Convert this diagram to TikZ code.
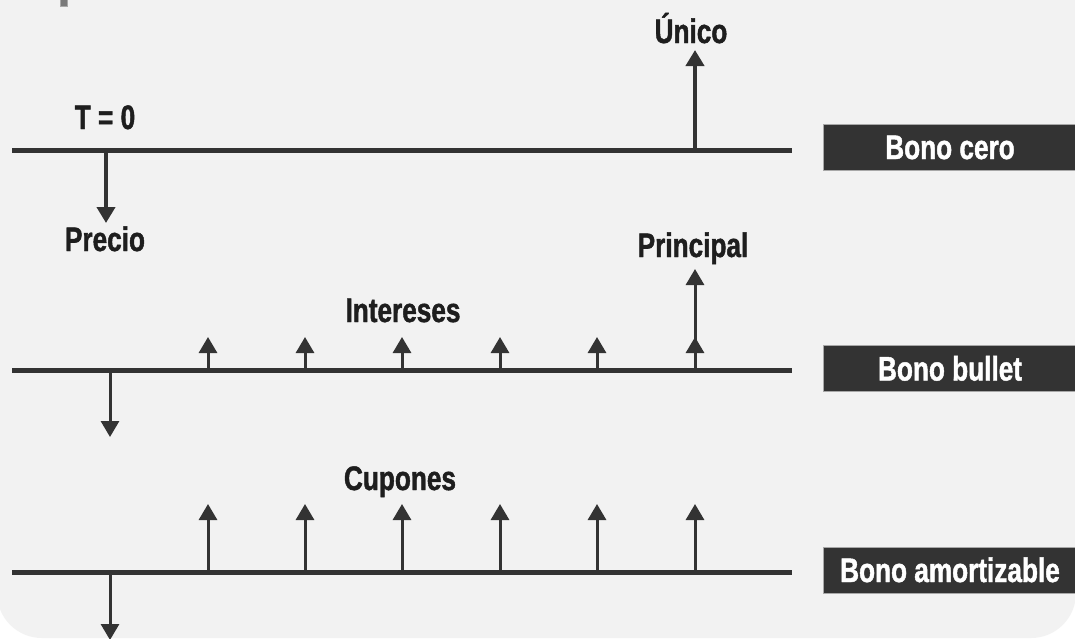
\documentclass[tikz,border=0pt]{standalone}
\usepackage{fontspec}
\setmainfont{Liberation Sans}[FakeStretch=0.77, BoldFeatures={FakeBold=1.3}]
\usetikzlibrary{arrows.meta}
\definecolor{bg}{HTML}{F2F2F2}
\definecolor{ink}{HTML}{333333}
\definecolor{txt}{HTML}{1E1E1E}
\definecolor{boxedge}{HTML}{A8A8A8}
\definecolor{cornermark}{HTML}{7A7A7A}
\begin{document}
\begin{tikzpicture}[x=1pt,y=-1pt,
  lbl/.style={font=\fontsize{34}{38}\selectfont\bfseries, text=txt, anchor=base, inner sep=0pt},
  axisline/.style={draw=ink, line width=5pt},
  bigarrow/.style={draw=ink, line width=4.5pt, -{Triangle[length=16pt,width=18pt]}},
  thinarrow/.style={draw=ink, line width=3pt, -{Triangle[length=16pt,width=18pt]}},
  bonobox/.style={fill=ink, draw=boxedge, line width=0.8pt, text=white,
    minimum width=254pt, minimum height=46pt, inner sep=0pt,
    font=\fontsize{34}{38}\selectfont\bfseries, text height=24pt, text depth=0pt}
]
\useasboundingbox (0,0) rectangle (1075,638);
\fill[white] (0,0) rectangle (1075,638);
\fill[bg, rounded corners=45pt] (-3,-80) rectangle (1076,638);
\filldraw[fill=cornermark, draw=boxedge, line width=0.5pt] (60,-2) rectangle (67,6);

% ---------- Bono cero ----------
\coordinate (a1s) at (12,150);
\coordinate (a1e) at (792,150);
\draw[axisline] (a1s) -- (a1e);
\node[bonobox] (b1) at (950,147) {Bono cero};
\coordinate (z0) at (106,150);
\coordinate (zp) at (106,223);
\draw[bigarrow] (z0) -- (zp);
\coordinate (u0) at (695,150);
\coordinate (ut) at (695,50);
\draw[bigarrow] (u0) -- (ut);
\node[lbl] (unico) at (691,43) {Único};
\node[lbl] (t0) at (105,129) {T = 0};
\node[lbl] (precio) at (105,251) {Precio};

% ---------- Bono bullet ----------
\coordinate (a2s) at (12,370);
\coordinate (a2e) at (792,370);
\draw[axisline] (a2s) -- (a2e);
\node[bonobox] (b2) at (950,368.5) {Bono bullet};
\coordinate (d2s) at (110,370);
\coordinate (d2e) at (110,437);
\draw[thinarrow] (d2s) -- (d2e);
\foreach \i/\x in {1/208,2/305,3/402,4/500,5/597,6/695}{
  \coordinate (i\i s) at (\x,370);
  \coordinate (i\i e) at (\x,337);
  \draw[thinarrow] (i\i s) -- (i\i e);
}
\coordinate (pt) at (695,269);
\draw[thinarrow] (i6s) -- (pt);
\node[lbl] (principal) at (693,257) {Principal};
\node[lbl] (intereses) at (403,322) {Intereses};

% ---------- Bono amortizable ----------
\coordinate (a3s) at (12,572);
\coordinate (a3e) at (792,572);
\draw[axisline] (a3s) -- (a3e);
\node[bonobox] (b3) at (950,570) {Bono amortizable};
\coordinate (d3s) at (110,572);
\coordinate (d3e) at (110,640);
\draw[thinarrow] (d3s) -- (d3e);
\foreach \i/\x in {1/208,2/305,3/402,4/500,5/597,6/695}{
  \coordinate (c\i s) at (\x,572);
  \coordinate (c\i e) at (\x,504);
  \draw[thinarrow] (c\i s) -- (c\i e);
}
\node[lbl] (cupones) at (400,490) {Cupones};
\end{tikzpicture}
\end{document}
